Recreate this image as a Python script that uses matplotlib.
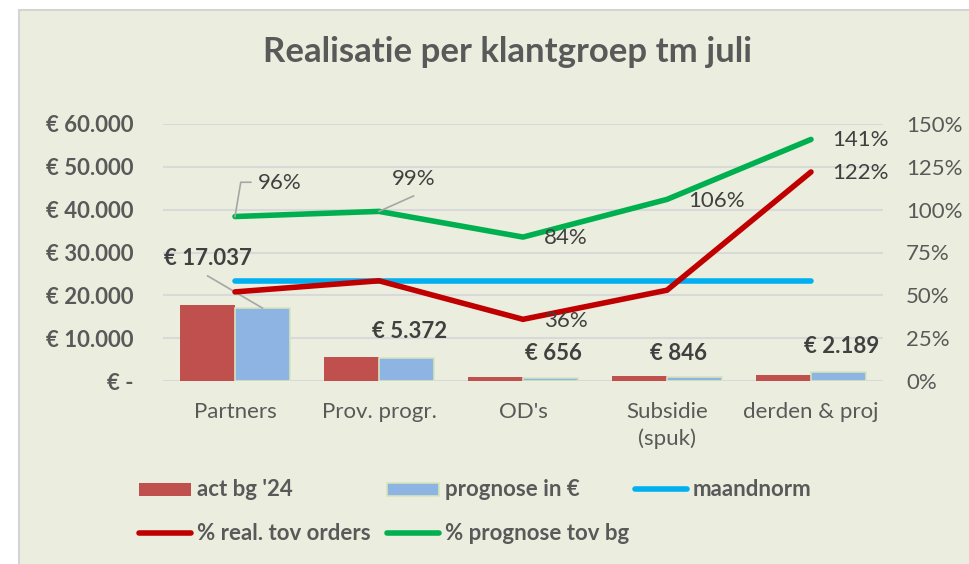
import numpy as np
import matplotlib.pyplot as plt
from matplotlib.patches import Rectangle
from matplotlib.lines import Line2D

plt.rcParams['font.family'] = ['Lato', 'DejaVu Sans']

# Gegevens per klantgroep
groepen = ['Partners', 'Prov. progr.', "OD's", 'Subsidie\n(spuk)', 'derden & proj']
act_bg = [17800, 5600, 850, 1080, 1480]
prognose = [17037, 5372, 656, 846, 2189]
pct_real = [52, 58.5, 36, 53, 122]
pct_prognose = [96, 99, 84, 106, 141]
maandnorm = [58.33, 58.33, 58.33, 58.33, 58.33]

bar_labels = ['€ 17.037', '€ 5.372', '€ 656', '€ 846', '€ 2.189']
yticks_links = ['€ -', '€ 10.000', '€ 20.000', '€ 30.000', '€ 40.000', '€ 50.000', '€ 60.000']

achtergrond = '#EBEEDE'
tekst = '#595959'
rood = '#C0504D'
blauw = '#8EB4E3'
lijn_rood = '#C00000'
lijn_groen = '#00B050'
lijn_blauw = '#00B0F0'
grid = '#D9D9D9'
fs = 16

W, H = 969, 564
fig = plt.figure(figsize=(W/100, H/100), dpi=100)
fig.patch.set_facecolor('white')
fig.patches.append(Rectangle((19/W, -0.05), 1.0, 1 - 10/H + 0.05, transform=fig.transFigure,
                             facecolor=achtergrond, edgecolor='#D4D4D4', linewidth=1.5, zorder=-10))

ax = fig.add_axes([163/W, 1 - 381/H, 720/W, 257/H])
ax.set_facecolor('none')
x = np.arange(len(groepen))
w = 0.38
ax.bar(x - w/2, act_bg, w, color=rood, zorder=2)
ax.bar(x + w/2, prognose, w, color=blauw, edgecolor='#D7E4BD', linewidth=1.2, zorder=2)

ax.set_xlim(-0.5, 4.5)
ax.set_ylim(0, 60000)
ax.set_yticks(np.arange(0, 60001, 10000))
ax.set_yticklabels(yticks_links, fontsize=fs, fontweight='bold', color=tekst)
ax.set_xticks(x)
ax.set_xticklabels(groepen, fontsize=fs, color=tekst, linespacing=1.4)
ax.tick_params(length=0, pad=15)
ax.tick_params(axis='y', pad=21)
ax.grid(axis='y', color=grid, linewidth=1.5, zorder=0)
for s in ax.spines.values():
    s.set_visible(False)

# Labels bij de prognose-balken
offsets_bar = [(-54, 50), (3, 26), (3, 25), (-16, 24), (3, 25)]
for i, (lab, off) in enumerate(zip(bar_labels, offsets_bar)):
    ax.annotate(lab, (x[i] + w/2, prognose[i]), xytext=off, textcoords='offset pixels',
                ha='center', va='center', fontsize=fs, fontweight='bold', color='#404040', zorder=5)
ax.plot([x[0] + w/2, x[0] + w/2 - 0.38], [prognose[0], prognose[0] + 7500], color='#A6A6A6', lw=1.2, zorder=4)

# Percentages op de rechter as
ax2 = ax.twinx()
ax2.set_ylim(0, 150)
ax2.set_yticks(np.arange(0, 151, 25))
ax2.set_yticklabels([f'{v}%' for v in range(0, 151, 25)], fontsize=fs, color=tekst)
ax2.tick_params(length=0, pad=16.5)
for s in ax2.spines.values():
    s.set_visible(False)

ax2.plot(x, maandnorm, color=lijn_blauw, lw=4, solid_capstyle='round', zorder=3)
ax2.plot(x, pct_real, color=lijn_rood, lw=4, solid_capstyle='round', solid_joinstyle='miter', zorder=3)
ax2.plot(x, pct_prognose, color=lijn_groen, lw=4, solid_capstyle='round', zorder=3)

def pct_label(i, waarde, off):
    ax2.annotate(f'{waarde:.0f}%', (x[i], waarde), xytext=off, textcoords='offset pixels',
                 ha='center', va='center', fontsize=fs, color='#404040', zorder=5)

pct_label(0, pct_prognose[0], (45, 34))
pct_label(1, pct_prognose[1], (35, 32))
pct_label(2, pct_prognose[2], (43, -1))
pct_label(3, pct_prognose[3], (50, -2))
pct_label(4, pct_prognose[4], (49, -1))
pct_label(4, pct_real[4], (49, -1))
pct_label(2, pct_real[2], (43, -2))

# Verbindingslijntjes naar 96% en 99%
ax2.plot([x[0], x[0] + 0.04, x[0] + 0.11], [pct_prognose[0], 116, 116], color='#A6A6A6', lw=1.2, zorder=4)
ax2.plot([x[1], x[1] + 0.24], [pct_prognose[1], pct_prognose[1] + 9], color='#A6A6A6', lw=1.2, zorder=4)

fig.text(507/W, 1 - 52/H, 'Realisatie per klantgroep tm juli', ha='center', va='center',
         fontsize=25, fontweight='bold', color=tekst)

# Legenda in twee rijen
legenda = [
    (137, 489, 'patch', rood, "act bg '24"),
    (385, 489, 'patch', blauw, 'prognose in €'),
    (633, 489, 'line', lijn_blauw, 'maandnorm'),
    (137, 533, 'line', lijn_rood, '% real. tov orders'),
    (385, 533, 'line', lijn_groen, '% prognose tov bg'),
]
for x0, y0, soort, kleur, tekstlabel in legenda:
    if soort == 'patch':
        rand = '#D7E4BD' if kleur == blauw else 'none'
        fig.patches.append(Rectangle(((x0 + 2)/W, 1 - (y0 + 7)/H), 52/W, 13.5/H, transform=fig.transFigure,
                                     facecolor=kleur, edgecolor=rand, linewidth=1.2))
    else:
        fig.lines.append(Line2D([(x0 + 2)/W, (x0 + 54)/W], [1 - y0/H, 1 - y0/H], transform=fig.transFigure,
                                color=kleur, lw=4, solid_capstyle='round'))
    fig.text((x0 + 60)/W, 1 - y0/H, tekstlabel, ha='left', va='center', fontsize=fs,
             fontweight='bold', color=tekst)

fig.savefig('out.png', dpi=100, facecolor=fig.get_facecolor())
